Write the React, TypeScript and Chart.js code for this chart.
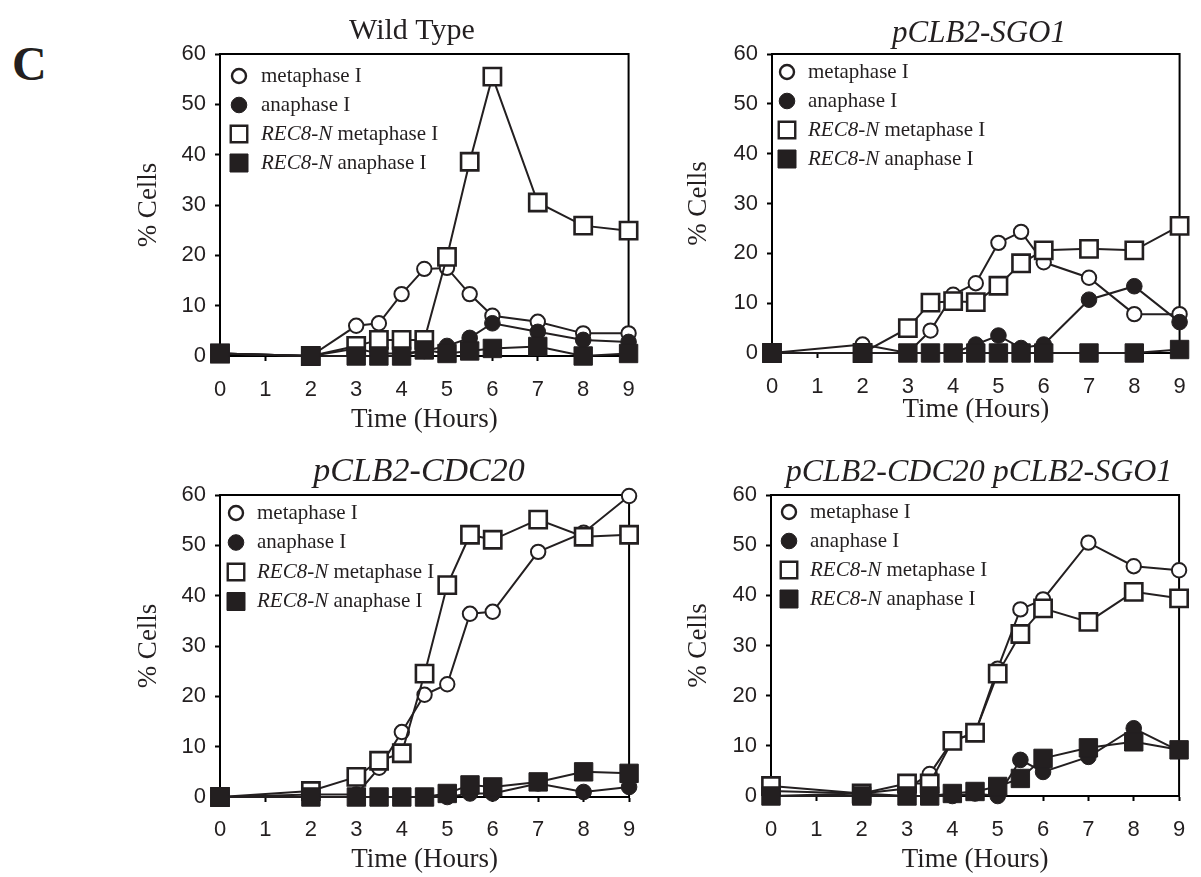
import React, { useEffect, useRef } from 'react';
import { Chart, registerables } from 'chart.js';

Chart.register(...registerables);

// ---------------- data ----------------
const times = [0, 2, 3, 3.5, 4, 4.5, 5, 5.5, 6, 7, 8, 9];
const xTicks = [0, 1, 2, 3, 4, 5, 6, 7, 8, 9];
const yTicks = [0, 10, 20, 30, 40, 50, 60];
const seriesLabels = ['metaphase I', 'anaphase I', 'REC8-N metaphase I', 'REC8-N anaphase I'];
const panelTitles = ['Wild Type', 'pCLB2-SGO1', 'pCLB2-CDC20', 'pCLB2-CDC20 pCLB2-SGO1'];

// Wild Type
const wtMeta = [0.5, 0, 6.0, 6.5, 12.3, 17.3, 17.5, 12.3, 8.0, 6.8, 4.5, 4.5];
const wtAna = [0.5, 0, 1.5, 0.5, 0.5, 1, 2, 3.6, 6.5, 4.8, 3.2, 2.8];
const wtRecMeta = [0.5, 0, 2, 3.2, 3.2, 3.2, 19.7, 38.6, 55.5, 30.5, 25.9, 24.9];
const wtRecAna = [0.5, 0, 0, 0, 0, 1.2, 0.5, 1, 1.5, 1.9, 0, 0.5];

// pCLB2-SGO1
const sgoMeta = [0, 1.7, 0, 4.5, 11.7, 14.0, 22.1, 24.3, 18.2, 15.1, 7.8, 7.8];
const sgoAna = [0, 0, 0, 0, 0, 1.7, 3.5, 1.0, 1.7, 10.7, 13.4, 6.2];
const sgoRecMeta = [0, 0, 5.0, 10.1, 10.4, 10.2, 13.5, 18.0, 20.6, 20.9, 20.6, 25.5];
const sgoRecAna = [0, 0, 0, 0, 0, 0, 0, 0, 0, 0, 0, 0.7];

// pCLB2-CDC20
const cdcMeta = [0, 0.5, 0.5, 5.8, 12.9, 20.3, 22.4, 36.4, 36.8, 48.7, 52.5, 59.8];
const cdcAna = [0, 0, 0, 0, 0, 0, 0, 0.7, 0.7, 2.7, 1.0, 2.0];
const cdcRecMeta = [0, 1.2, 4.0, 7.2, 8.7, 24.5, 42.1, 52.1, 51.1, 55.1, 51.7, 52.1];
const cdcRecAna = [0, 0, 0, 0, 0, 0, 0.7, 2.4, 2.0, 3.0, 5.0, 4.7];

// pCLB2-CDC20 pCLB2-SGO1
const bothMeta = [1, 0.5, 1.5, 4.4, 11, 12.5, 25.4, 37.2, 39.2, 50.5, 45.8, 45.0];
const bothAna = [0, 0.5, 0, 0, 0, 0.5, 0, 7.2, 4.8, 7.8, 13.5, 9.0];
const bothRecMeta = [2.0, 0.5, 2.5, 2.5, 11.0, 12.6, 24.4, 32.3, 37.4, 34.7, 40.7, 39.4];
const bothRecAna = [0, 0, 0, 0, 0.5, 0.9, 1.9, 3.5, 7.5, 9.6, 10.8, 9.2];

// ---------------- styles ----------------
const INK = '#231f20';
const SERIF = '"Liberation Serif", "Times New Roman", serif';
const SANS = '"Liberation Sans", Arial, sans-serif';

const STYLES = [
  { pointStyle: 'circle', pointRadius: 7.2, pointBackgroundColor: '#fff', pointBorderWidth: 2, order: 4 },
  { pointStyle: 'circle', pointRadius: 7.8, pointBackgroundColor: INK, pointBorderWidth: 1, order: 3 },
  { pointStyle: 'rect', pointRadius: 12.2, pointBackgroundColor: '#fff', pointBorderWidth: 2.6, order: 2 },
  { pointStyle: 'rect', pointRadius: 13, pointBackgroundColor: INK, pointBorderWidth: 1, order: 1 },
];

type Rect = { left: number; top: number; width: number; height: number };
type Plot = { L: number; T: number; R: number; B: number };
type Spec = {
  title: string;
  italic: boolean;
  titleSize: number;
  values: number[][];
  c: Rect;
  p: Plot;
  titleX: number;
  titleY: number;
  yTitleX: number;
  xTitleY: number;
  tickY: number;
  lg: { dx: number; dy: number; tx: number; gap: number };
};

const SPECS: Spec[] = [
  {
    title: panelTitles[0], italic: false, titleSize: 30,
    values: [wtMeta, wtAna, wtRecMeta, wtRecAna],
    c: { left: 130, top: 0, width: 520, height: 440 },
    p: { L: 220, T: 54, R: 631, B: 356 },
    titleX: 412, titleY: 39, yTitleX: 149, xTitleY: 420, tickY: 389.5,
    lg: { dx: 19, dy: 22, tx: 41, gap: 29 },
  },
  {
    title: panelTitles[1], italic: true, titleSize: 31,
    values: [sgoMeta, sgoAna, sgoRecMeta, sgoRecAna],
    c: { left: 680, top: 0, width: 521, height: 440 },
    p: { L: 772, T: 54, R: 1187, B: 353 },
    titleX: 979, titleY: 42, yTitleX: 699, xTitleY: 410, tickY: 386.5,
    lg: { dx: 15, dy: 18, tx: 36, gap: 29 },
  },
  {
    title: panelTitles[2], italic: true, titleSize: 34,
    values: [cdcMeta, cdcAna, cdcRecMeta, cdcRecAna],
    c: { left: 130, top: 440, width: 520, height: 437 },
    p: { L: 220, T: 495, R: 631, B: 797 },
    titleX: 419, titleY: 481, yTitleX: 149, xTitleY: 860, tickY: 830,
    lg: { dx: 16, dy: 18, tx: 37, gap: 29.5 },
  },
  {
    title: panelTitles[3], italic: true, titleSize: 32,
    values: [bothMeta, bothAna, bothRecMeta, bothRecAna],
    c: { left: 680, top: 440, width: 521, height: 437 },
    p: { L: 771, T: 495, R: 1182, B: 796 },
    titleX: 979, titleY: 481, yTitleX: 699, xTitleY: 860, tickY: 830,
    lg: { dx: 18, dy: 17, tx: 39, gap: 29 },
  },
];

function Panel({ spec }: { spec: Spec }) {
  const ref = useRef<HTMLCanvasElement>(null);
  useEffect(() => {
    const canvas = ref.current;
    if (!canvas) return;
    const { c, p } = spec;
    const tickFont = { family: SANS, size: 22 };
    const axisFont = { family: SERIF, size: 27 };
    const tl = 5;
    const tickLH = tickFont.size * 1.2;
    const axisLH = axisFont.size * 1.2;
    const yWidth = p.L - c.left;
    const xHeight = c.top + c.height - p.B;

    const deco = {
      id: 'deco',
      beforeDatasetsDraw(chart: any) {
        const ctx = chart.ctx;
        const a = chart.chartArea;
        ctx.save();
        ctx.strokeStyle = '#000';
        ctx.lineWidth = 2;
        ctx.beginPath();
        ctx.moveTo(a.left, a.top);
        ctx.lineTo(a.right, a.top);
        ctx.lineTo(a.right, a.bottom);
        ctx.stroke();
        ctx.restore();
      },
      afterDatasetsDraw(chart: any) {
        const ctx = chart.ctx;
        const a = chart.chartArea;
        ctx.save();
        // panel title
        ctx.fillStyle = INK;
        ctx.textAlign = 'center';
        ctx.textBaseline = 'alphabetic';
        ctx.font = `${spec.italic ? 'italic ' : ''}${spec.titleSize}px ${SERIF}`;
        ctx.fillText(spec.title, spec.titleX - c.left, spec.titleY - c.top);
        // legend
        chart.data.datasets.forEach((ds: any, i: number) => {
          const cx = a.left + spec.lg.dx;
          const cy = a.top + spec.lg.dy + i * spec.lg.gap;
          const open = ds.pointBackgroundColor === '#fff';
          ctx.beginPath();
          if (ds.pointStyle === 'circle') {
            const r = open ? 7 : 7.8;
            ctx.arc(cx, cy, r, 0, Math.PI * 2);
          } else {
            const s = open ? 16.5 : 18;
            ctx.rect(cx - s / 2, cy - s / 2, s, s);
          }
          ctx.fillStyle = ds.pointBackgroundColor;
          ctx.fill();
          ctx.lineWidth = open ? 2.4 : 1;
          ctx.strokeStyle = INK;
          ctx.stroke();
          ctx.fillStyle = INK;
          ctx.textAlign = 'left';
          ctx.textBaseline = 'middle';
          let tx = a.left + spec.lg.tx;
          const label: string = ds.label;
          const pre = 'REC8-N';
          if (label.startsWith(pre)) {
            ctx.font = `italic 21px ${SERIF}`;
            ctx.fillText(pre, tx, cy);
            tx += ctx.measureText(pre).width;
            ctx.font = `21px ${SERIF}`;
            ctx.fillText(label.slice(pre.length), tx, cy);
          } else {
            ctx.font = `21px ${SERIF}`;
            ctx.fillText(label, tx, cy);
          }
        });
        ctx.restore();
      },
    };

    const chart = new Chart(canvas, {
      type: 'line',
      data: {
        datasets: seriesLabels.map((label, i) => ({
          label,
          data: times.map((t, j) => ({ x: t, y: spec.values[i][j] })),
          borderColor: INK,
          borderWidth: 2,
          pointBorderColor: INK,
          tension: 0,
          clip: false,
          ...STYLES[i],
        })) as any,
      },
      options: {
        responsive: false,
        animation: false,
        devicePixelRatio: 1,
        layout: { padding: { top: p.T - c.top, right: c.left + c.width - p.R, left: 0, bottom: 0 } },
        plugins: { legend: { display: false }, tooltip: { enabled: false } },
        scales: {
          x: {
            type: 'linear',
            min: 0,
            max: 9,
            afterBuildTicks: (s: any) => { s.ticks = xTicks.map((v) => ({ value: v })); },
            ticks: { font: tickFont, color: INK, padding: spec.tickY - p.B - tl - tickLH / 2, maxRotation: 0, autoSkip: false },
            grid: { display: true, drawOnChartArea: false, drawTicks: true, tickLength: tl, tickWidth: 2, color: '#000' },
            border: { display: true, color: '#000', width: 2 },
            title: {
              display: true, text: 'Time (Hours)', font: axisFont, color: INK,
              padding: { top: 0, bottom: c.top + c.height - spec.xTitleY - axisLH / 2 },
            },
            afterFit: (s: any) => { s.height = xHeight; },
          },
          y: {
            type: 'linear',
            min: 0,
            max: 60,
            afterBuildTicks: (s: any) => { s.ticks = yTicks.map((v) => ({ value: v })); },
            ticks: { font: tickFont, color: INK, padding: 9 },
            grid: { display: true, drawOnChartArea: false, drawTicks: true, tickLength: tl, tickWidth: 2, color: '#000' },
            border: { display: true, color: '#000', width: 2 },
            title: {
              display: true, text: '% Cells', font: axisFont, color: INK,
              padding: { top: spec.yTitleX - c.left - axisLH / 2, bottom: 0 },
            },
            afterFit: (s: any) => { s.width = yWidth; },
          },
        },
      } as any,
      plugins: [deco],
    });
    return () => chart.destroy();
  }, [spec]);

  return (
    <canvas
      ref={ref}
      width={spec.c.width}
      height={spec.c.height}
      style={{ position: 'absolute', left: spec.c.left, top: spec.c.top, width: spec.c.width, height: spec.c.height }}
    />
  );
}

export default function App() {
  return (
    <div style={{ position: 'absolute', left: 0, top: 0, width: 1201, height: 877, background: '#fff', overflow: 'hidden' }}>
      <div
        style={{
          position: 'absolute', left: 12, top: 40, fontFamily: SERIF, fontWeight: 'bold',
          fontSize: 48, lineHeight: '48px', color: INK,
        }}
      >
        C
      </div>
      {SPECS.map((s, i) => (
        <Panel key={i} spec={s} />
      ))}
    </div>
  );
}
